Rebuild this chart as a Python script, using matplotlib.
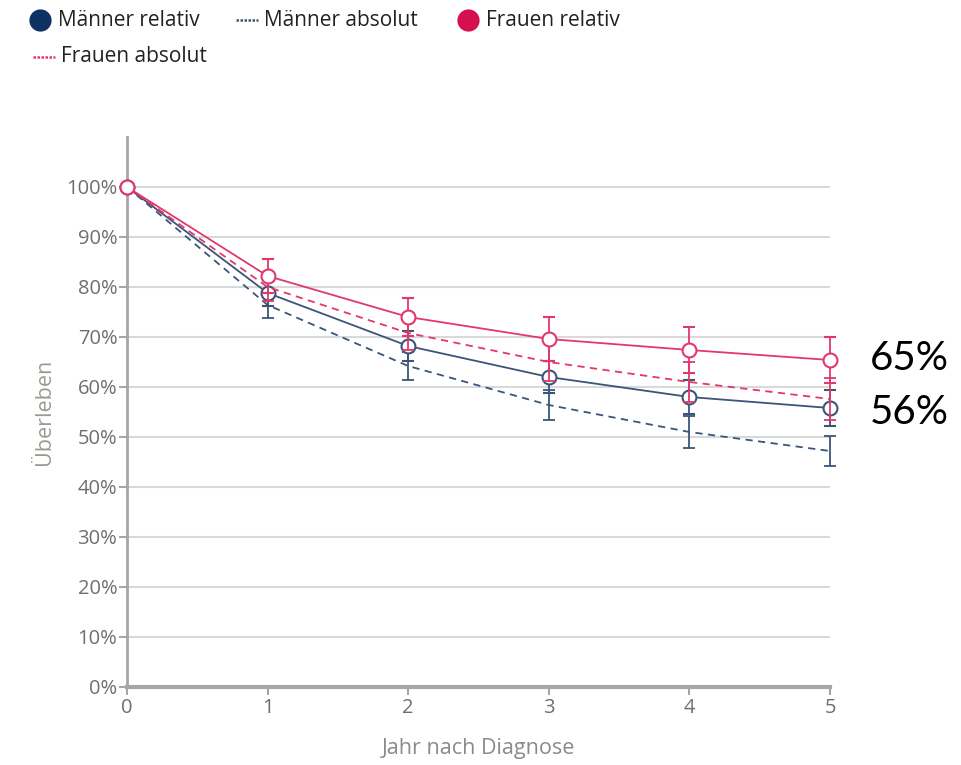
import matplotlib
matplotlib.use("Agg")
import matplotlib.pyplot as plt
from matplotlib.lines import Line2D
from matplotlib.ticker import FuncFormatter

# ---- data ----
years = [0, 1, 2, 3, 4, 5]
maenner_relativ = [100, 78.8, 68.2, 62.0, 58.0, 55.8]
maenner_relativ_err = [0, 2.6, 3.0, 3.2, 3.4, 3.6]
maenner_absolut = [100, 76.4, 64.2, 56.4, 51.0, 47.2]
maenner_absolut_err = [0, 2.6, 2.8, 3.0, 3.2, 3.0]
frauen_relativ = [100, 82.2, 74.0, 69.6, 67.4, 65.4]
frauen_relativ_err = [0, 3.4, 3.8, 4.4, 4.6, 4.6]
frauen_absolut = [100, 80.0, 70.8, 65.0, 61.0, 57.6]
frauen_absolut_err = [0, 2.8, 3.4, 3.8, 4.0, 4.2]
yticks = [0, 10, 20, 30, 40, 50, 60, 70, 80, 90, 100]
annotations = ["65%", "56%"]
annot_values = [65.8, 54.8]

legend_labels = ["Männer relativ", "Männer absolut", "Frauen relativ", "Frauen absolut"]

C_M = "#3b5579"
C_F = "#e2386b"
C_M_LEG = "#0d3163"
C_F_LEG = "#d5104f"
GREY_TXT = "#6f6f6f"

plt.rcParams['font.family'] = ['Open Sans', 'DejaVu Sans']

fig = plt.figure(figsize=(9.61, 7.65), dpi=100)
ax = fig.add_axes([127/961, 1-687/765, (830-127)/961, (687-137)/765])

lw = 1.3
eb = dict(elinewidth=1.3, capsize=4, capthick=1.3, clip_on=False)
ax.errorbar(years, maenner_absolut, yerr=maenner_absolut_err, color=C_M, lw=lw,
            ls=(0, (4, 3)), zorder=3, **eb)
ax.errorbar(years, maenner_relativ, yerr=maenner_relativ_err, color=C_M, lw=lw,
            marker='o', ms=10, mfc='white', mec=C_M, mew=1.5, zorder=4, **eb)
ax.errorbar(years, frauen_absolut, yerr=frauen_absolut_err, color=C_F, lw=lw,
            ls=(0, (4, 3)), zorder=5, **eb)
ax.errorbar(years, frauen_relativ, yerr=frauen_relativ_err, color=C_F, lw=lw,
            marker='o', ms=10, mfc='white', mec=C_F, mew=1.5, zorder=6, **eb)

ax.set_xlim(0, 5)
ax.set_ylim(0, 110)
ax.set_yticks(yticks)
ax.yaxis.set_major_formatter(FuncFormatter(lambda v, p: f"{int(v)}%"))
ax.set_xticks(years)
ax.grid(axis='y', color='#d9d9d9', lw=1.5, zorder=0)
ax.set_axisbelow(True)
for s in ['top', 'right']:
    ax.spines[s].set_visible(False)
ax.spines['left'].set_color('#a6a6a6')
ax.spines['left'].set_linewidth(2)
ax.spines['bottom'].set_color('#a6a6a6')
ax.spines['bottom'].set_linewidth(3)
ax.tick_params(axis='both', colors='#a6a6a6', labelcolor=GREY_TXT, labelsize=14.5,
               length=6, width=1.5)
ax.tick_params(axis='y', pad=1)
ax.tick_params(axis='x', pad=2)
ax.set_xlabel("Jahr nach Diagnose", color='#8a8a8a', fontsize=15.5, labelpad=14)
ax.set_ylabel("Überleben", color='#9d9890', fontsize=15.5, labelpad=8)

# annotations
for txt, v in zip(annotations, annot_values):
    ax.annotate(txt, xy=(5, v), xytext=(29, 0), textcoords='offset points',
                fontsize=29, color='black', va='center', ha='left',
                family=['Lato', 'DejaVu Sans'], annotation_clip=False)

# legend (manual)
def leg_entry(x, y, kind, color, label):
    if kind == 'dot':
        fig.add_artist(Line2D([x + 10], [y], marker='o', ms=15, color=color,
                              transform=None, ls=''))
        tx = x + 28
    else:
        fig.add_artist(Line2D([x, x + 22], [y, y], color=color, lw=1.8,
                              ls=(0, (1, 0.6)), transform=None))
        tx = x + 28
    fig.text(tx, y, label, transform=None, fontsize=15, color='#222222',
             va='center', ha='left')

H = 765
leg_entry(30, H - 20, 'dot', C_M_LEG, legend_labels[0])
leg_entry(236, H - 20, 'dash', C_M, legend_labels[1])
leg_entry(458, H - 20, 'dot', C_F_LEG, legend_labels[2])
leg_entry(33, H - 57, 'dash', C_F, legend_labels[3])

fig.savefig("out.png", dpi=100)
